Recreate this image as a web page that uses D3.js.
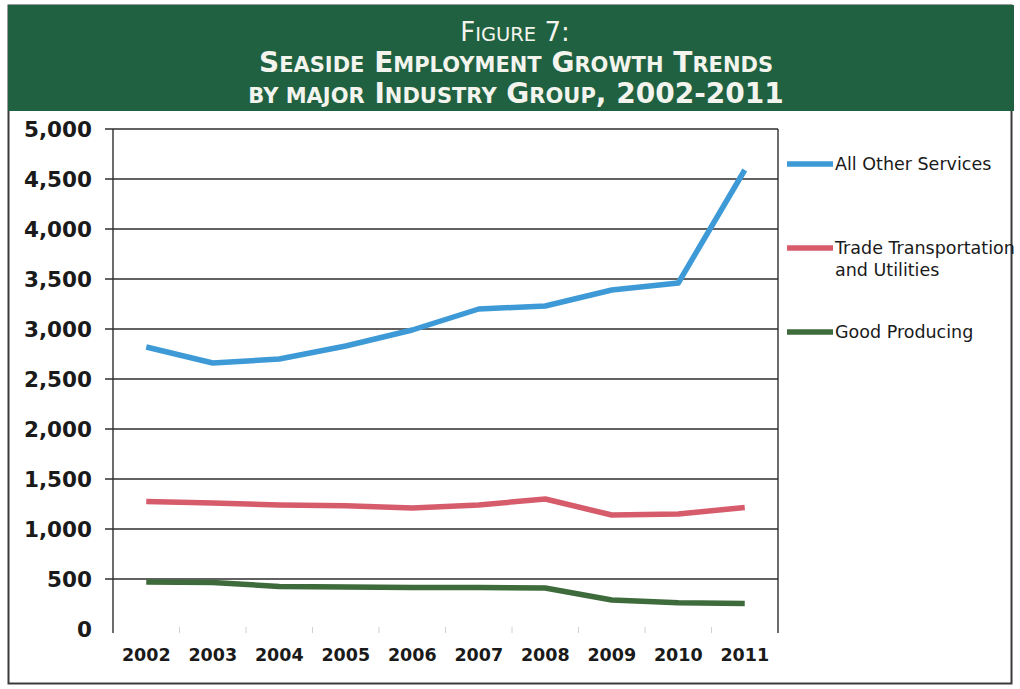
<!DOCTYPE html>
<html>
<head>
<meta charset="utf-8">
<script src="https://cdn.jsdelivr.net/npm/d3@7"></script>
<style>
  html, body { margin: 0; padding: 0; background: #ffffff; }
  svg { display: block; }
</style>
</head>
<body>
<svg id="chart" width="1020" height="689"></svg>
<script>
// Seaside employment by major industry group, 2002-2011
const years = ["2002", "2003", "2004", "2005", "2006", "2007", "2008", "2009", "2010", "2011"];
const allOtherServices = [2820, 2660, 2700, 2830, 2990, 3200, 3230, 3390, 3460, 4590];
const tradeTransportation = [1275, 1260, 1240, 1232, 1210, 1240, 1300, 1140, 1150, 1215];
const goodProducing = [470, 465, 425, 420, 415, 415, 410, 290, 262, 255];
const yTicks = [0, 500, 1000, 1500, 2000, 2500, 3000, 3500, 4000, 4500, 5000];
const seriesNames = ["All Other Services", "Trade Transportation\nand Utilities", "Good Producing"];
const seriesColors = ["#3d9ad6", "#d65c6c", "#3e6b3b"];

const series = [allOtherServices, tradeTransportation, goodProducing].map((values, i) => ({
  name: seriesNames[i],
  color: seriesColors[i],
  values
}));

const svg = d3.select("#chart");
const plot = { left: 113, right: 778, top: 129, bottom: 629 };

// Outer frame of the figure
svg.append("rect")
  .attr("x", 8.5).attr("y", 5.5)
  .attr("width", 1003).attr("height", 678)
  .attr("fill", "#ffffff")
  .attr("stroke", "#3a3a3a").attr("stroke-width", 2);

// Title banner
svg.append("rect")
  .attr("x", 8).attr("y", 5)
  .attr("width", 1006).attr("height", 106)
  .attr("fill", "#1f6140");

const title = svg.append("g").attr("fill", "#f4f4ee").attr("text-anchor", "middle")
  .style("font-family", "'DejaVu Sans', Verdana, sans-serif");

// Small-caps title lines built from large and small tspans
function smallCaps(sel, parts, bigSize, smallSize, weight) {
  parts.forEach(([txt, big]) => {
    sel.append("tspan")
      .attr("font-size", big ? bigSize : smallSize)
      .attr("font-weight", weight)
      .text(txt);
  });
}

const t1 = title.append("text").attr("x", 515).attr("y", 41);
smallCaps(t1, [["F", true], ["IGURE", false], [" 7:", true]], 26, 19.5, "normal");

const t2 = title.append("text").attr("x", 516).attr("y", 72);
smallCaps(t2, [["S", true], ["EASIDE", false], [" E", true], ["MPLOYMENT", false],
  [" G", true], ["ROWTH", false], [" T", true], ["RENDS", false]], 28, 21, "bold");

const t3 = title.append("text").attr("x", 516).attr("y", 103);
smallCaps(t3, [["BY MAJOR", false], [" I", true], ["NDUSTRY", false],
  [" G", true], ["ROUP", false], [", 2002-2011", true]], 28, 21, "bold");

// Scales
const x = d3.scaleBand().domain(years).range([plot.left, plot.right]);
const y = d3.scaleLinear().domain([0, 5000]).range([plot.bottom, plot.top]);

// Horizontal gridlines with short ticks left of the axis
const grid = svg.append("g");
grid.selectAll("line")
  .data(yTicks.filter(v => v > 0))
  .join("line")
  .attr("x1", plot.left - 8).attr("x2", plot.right)
  .attr("y1", d => y(d)).attr("y2", d => y(d))
  .attr("stroke", "#2e2e2e").attr("stroke-width", 1.4);

// Plot frame sides
svg.append("line")
  .attr("x1", plot.left).attr("x2", plot.left)
  .attr("y1", plot.top).attr("y2", plot.bottom + 4)
  .attr("stroke", "#2e2e2e").attr("stroke-width", 1.4);
svg.append("line")
  .attr("x1", plot.right).attr("x2", plot.right)
  .attr("y1", plot.top).attr("y2", plot.bottom + 4)
  .attr("stroke", "#2e2e2e").attr("stroke-width", 1.4);

// Y axis labels
const yAxis = d3.axisLeft(y).tickValues(yTicks).tickSize(0).tickPadding(21)
  .tickFormat(d3.format(","));
const yg = svg.append("g").attr("transform", `translate(${plot.left},0)`).call(yAxis);
yg.select(".domain").remove();
yg.selectAll("text")
  .attr("fill", "#1a1a1a")
  .style("font-family", "'DejaVu Sans', Verdana, sans-serif")
  .style("font-weight", "bold")
  .style("font-size", "21.5px")
  .attr("dy", "0.36em");

// Faint category ticks along the base
svg.append("g").selectAll("line")
  .data(years.slice(1))
  .join("line")
  .attr("x1", d => x(d)).attr("x2", d => x(d))
  .attr("y1", plot.bottom - 2).attr("y2", plot.bottom + 4)
  .attr("stroke", "#d0d0d0").attr("stroke-width", 1);

// X axis labels
const xAxis = d3.axisBottom(x).tickSize(0).tickPadding(20);
const xg = svg.append("g").attr("transform", `translate(0,${plot.bottom})`).call(xAxis);
xg.select(".domain").remove();
xg.selectAll("text")
  .attr("fill", "#1a1a1a")
  .style("font-family", "'DejaVu Sans', Verdana, sans-serif")
  .style("font-weight", "bold")
  .style("font-size", "17.5px");

// Series lines
const line = d3.line()
  .x((d, i) => x(years[i]) + x.bandwidth() / 2)
  .y(d => y(d));

svg.append("g").selectAll("path")
  .data(series)
  .join("path")
  .attr("d", d => line(d.values))
  .attr("fill", "none")
  .attr("stroke", d => d.color)
  .attr("stroke-width", 5.5)
  .attr("stroke-linejoin", "round")
  .attr("stroke-linecap", "butt");

// Legend
const legendY = [164, 248, 332];
const legend = svg.append("g")
  .style("font-family", "'DejaVu Sans', Verdana, sans-serif")
  .style("font-size", "17.5px");
series.forEach((s, i) => {
  const g = legend.append("g").attr("transform", `translate(787,${legendY[i]})`);
  g.append("line")
    .attr("x1", 0).attr("x2", 46)
    .attr("stroke", s.color).attr("stroke-width", 5.5);
  const text = g.append("text").attr("x", 48).attr("y", 6).attr("fill", "#1a1a1a");
  s.name.split("\n").forEach((ln, j) => {
    text.append("tspan").attr("x", 48).attr("dy", j === 0 ? 0 : 22).text(ln);
  });
});
</script>
</body>
</html>
